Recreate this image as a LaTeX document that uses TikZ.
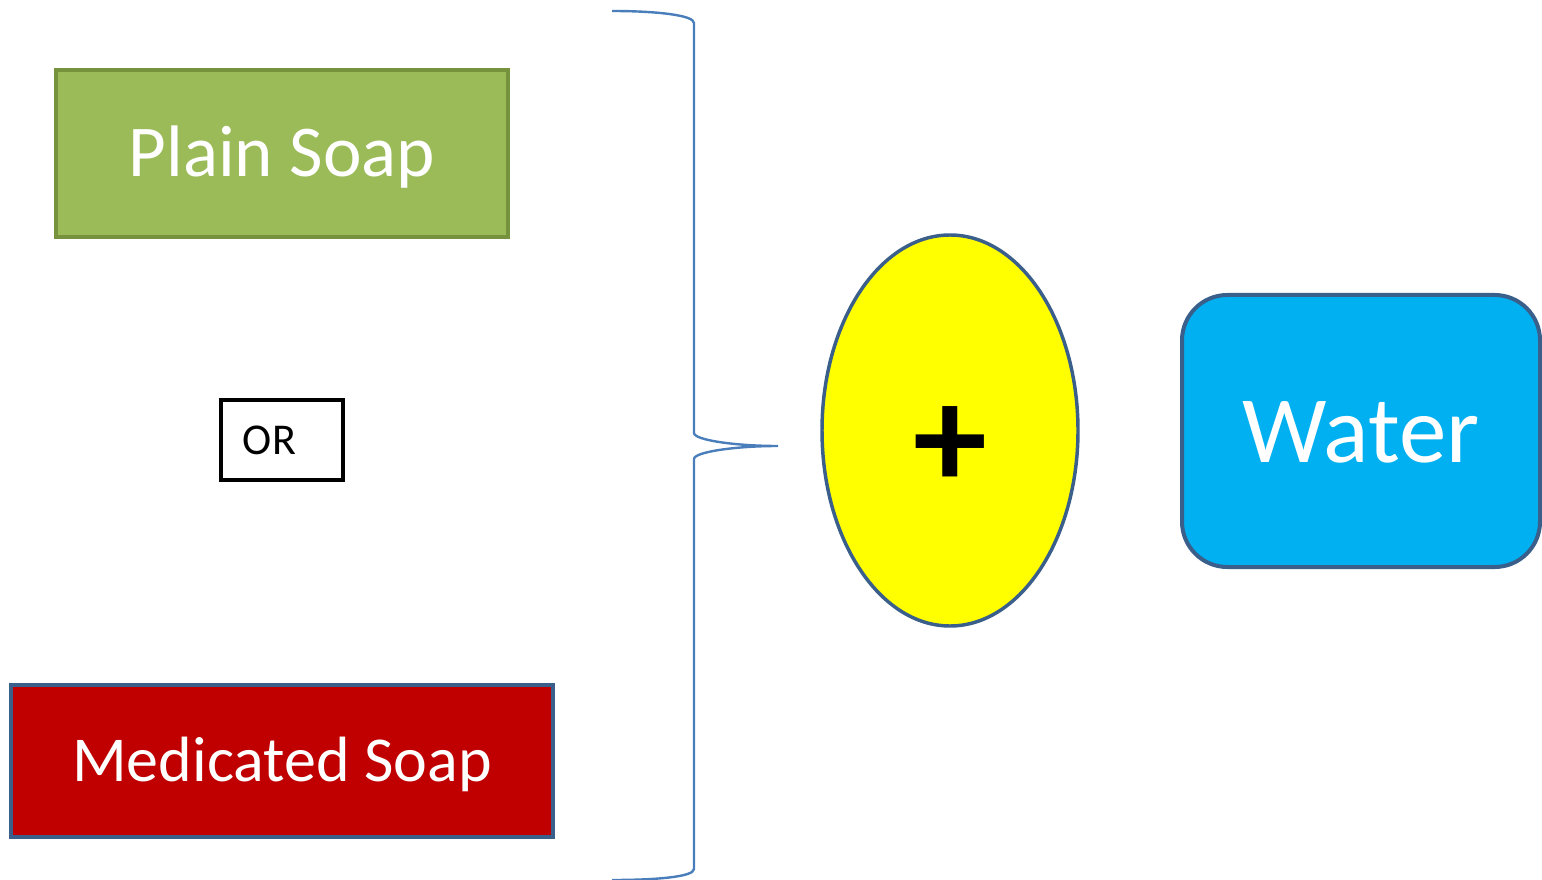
\documentclass[tikz,border=0pt]{standalone}
\usepackage{fontspec}
\setmainfont{Carlito}
\usetikzlibrary{shapes.geometric}

\definecolor{soapgreen}{RGB}{155,187,89}
\definecolor{soapgreenline}{RGB}{118,146,60}
\definecolor{soapred}{RGB}{192,0,0}
\definecolor{waterblue}{RGB}{0,176,240}
\definecolor{edgeblue}{RGB}{58,95,139}
\definecolor{bracecol}{RGB}{74,126,187}
\definecolor{plusyellow}{RGB}{255,255,0}

\tikzset{every picture/.style={line width=0.75pt}}
\tikzset{
  soapbox/.style={rectangle, inner sep=0pt, line width=3pt, text=white, text depth=0pt},
}

\begin{document}
\begin{tikzpicture}[x=0.75pt,y=0.75pt,yscale=-1,xscale=1]
\useasboundingbox (0,0) rectangle (1542,880);

%Shape: Rectangle [id:plain]
\draw (282,153.5) node [soapbox, fill=soapgreen, draw=soapgreenline, minimum width=339pt, minimum height=125.25pt, text height=34.5pt, font=\fontsize{54.75}{60}\selectfont] (plain) {Plain Soap};
%Shape: Rectangle [id:orbox]
\draw (282,440) node [rectangle, draw=black, line width=3pt, minimum width=91.5pt, minimum height=60pt, inner sep=0pt] (orbox) {};
% Text Node
\draw (269.5,441) node [inner sep=0pt, text height=21pt, text depth=0pt, font=\fontsize{33}{36}\selectfont] (ortext) {OR};
%Shape: Rectangle [id:medicated]
\draw (282,761) node [soapbox, fill=soapred, draw=edgeblue, minimum width=406.5pt, minimum height=114pt, text height=30pt, font=\fontsize{48}{54}\selectfont] (medicated) {Medicated Soap};

%Curve Lines [id:brace]
\coordinate (bracetip) at (778,446);
\draw [color=bracecol, line width=1.8pt]  (612,11) .. controls (655,11) and (694,15) .. (694,23) -- (694,433) .. controls (694,440) and (735,446) .. (bracetip) .. controls (735,446) and (694,452) .. (694,459) -- (694,869) .. controls (694,877) and (655,880) .. (612,880) ;

%Shape: Ellipse [id:plus]
\draw (950,430.5) node [ellipse, fill=plusyellow, draw=edgeblue, line width=2.6pt, minimum width=192pt, minimum height=293.25pt, inner sep=0pt] (mix) {};
% Text Node
\draw (950,448) node [inner sep=0pt, font=\bfseries\fontsize{111}{114}\selectfont] (plus) {+};

%Shape: Rounded Rect [id:water]
\draw (1361,431) node [soapbox, rounded corners=34pt, fill=waterblue, draw=edgeblue, minimum width=268.5pt, minimum height=204pt, text height=46.5pt, font=\fontsize{71.25}{78}\selectfont] (water) {Water};

\end{tikzpicture}
\end{document}
